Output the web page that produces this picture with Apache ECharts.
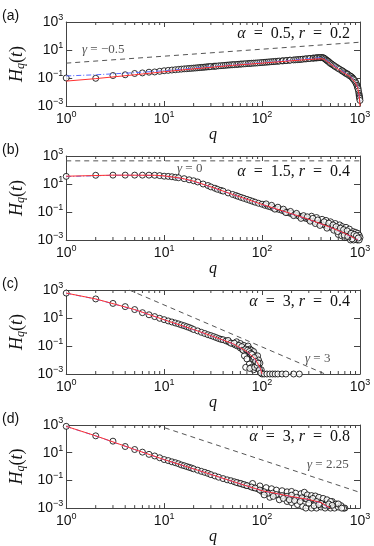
<!DOCTYPE html>
<html>
<head>
<meta charset="utf-8">
<script src="https://cdn.jsdelivr.net/npm/echarts@6.0.0/dist/echarts.min.js"></script>
<style>
html, body { margin: 0; padding: 0; background: #fff; }
#chart { width: 374px; height: 546px; }
</style>
</head>
<body>
<div id="chart"></div>
<script>
'use strict';

// panel (a) alpha = 0.5, r = 0.2
var ptsA = [[1,0.1],[2,0.095],[3,0.15],[4,0.17],[5,0.21],[6,0.23],[7,0.26],[8,0.27],[9,0.3],[10,0.33],
    [11,0.35],[12,0.37],[13,0.39],[14,0.41],[15,0.43],[16,0.45],[17,0.46],[18,0.48],[19,0.49],[20,0.51],
    [21,0.52],[22,0.54],[23,0.555],[24,0.57],[25,0.585],[26,0.6],[27,0.615],[28,0.63],[29,0.645],[30,0.66],
    [32,0.68],[33,0.7],[34,0.7],[36,0.74],[38,0.755],[40,0.78],[42,0.8],[44,0.83],[46,0.85],[48,0.87],
    [50,0.89],[52,0.9],[55,0.93],[57,0.95],[60,0.98],[62,1.0],[65,1.02],[68,1.05],[72,1.08],[75,1.1],
    [78,1.12],[82,1.15],[86,1.17],[90,1.2],[95,1.24],[100,1.28],[105,1.31],[110,1.35],[115,1.38],[120,1.42],
    [126,1.46],[132,1.5],[138,1.54],[145,1.58],[150,1.62],[160,1.67],[164,1.69],[175,1.75],[178,1.78],
    [190,1.85],[194,1.88],[210,1.95],[220,2.0],[230,2.05],[240,2.1],[250,2.15],[261,2.22],[275,2.3],
    [284,2.36],[300,2.45],[309,2.5],[330,2.6],[336,2.65],[350,2.7],[360,2.75],[365,2.78],[380,2.82],
    [390,2.85],[395,2.87],[410,2.9],[420,2.8],[430,2.6],[440,2.3],[450,2.0],[460,1.8],[470,1.6],[480,1.45],
    [490,1.25],[500,1.1],[515,0.98],[530,0.85],[545,0.74],[560,0.65],[580,0.56],[600,0.48],[620,0.42],
    [650,0.34],[660,0.32],[680,0.28],[700,0.24],[720,0.21],[740,0.2],[750,0.18],[780,0.15],[800,0.135],
    [820,0.12],[840,0.1],[850,0.09],[860,0.08],[880,0.065],[900,0.05],[915,0.04],[930,0.03],[945,0.024],
    [950,0.02],[955,0.017],[965,0.012],[975,0.008],[980,0.006],[985,0.005],[990,0.004],[992,0.0035],[1000,0.0025]];
var redA = [[1,0.06],[2,0.09],[5,0.17],[10,0.28],[20,0.45],[50,0.8],[100,1.15],[200,1.7],[300,2.1],
    [400,2.35],[430,2.2],[500,1.0],[600,0.42],[700,0.21],[800,0.12],[900,0.045],[950,0.018],[980,0.006],[1000,0.001]];
var blueA = [[1,0.14],[2,0.17],[5,0.24],[10,0.33],[20,0.5],[50,0.85],[100,1.25],[200,1.9],[300,2.4],
    [400,2.8],[430,2.6],[500,1.1],[600,0.48],[700,0.24],[800,0.135],[900,0.05],[950,0.02],[1000,0.002]];
var gamA = [[1,1.15],[1000,36]];

// panel (b) alpha = 1.5, r = 0.4
var ptsB = [[1,35],[2,42],[3,43],[4,43],[5,43],[6,43],[7,43],[8,42],[9,40],[10,36],[11,35],[12,33],
    [13,30],[14,28],[16,24],[18,20],[20,17],[22,14],[25,10],[28,7.8],[30,6.2],[33,5.0],[35,4.2],[38,3.5],
    [40,3.1],[45,2.3],[50,1.8],[54,1.5],[57,1.3],[61,1.1],[65,0.95],[70,0.8],[75,0.68],[80,0.58],[85,0.5],
    [92,0.42],[100,0.36],[107,0.3],[115,0.26],[122,0.23],[130,0.2],[140,0.17],[150,0.15],[160,0.13],
    [170,0.11],[180,0.097],[190,0.085],[200,0.077],[215,0.066],[230,0.057],[240,0.05],[255,0.044],
    [270,0.038],[285,0.034],[300,0.03],[320,0.026],[340,0.022],[360,0.019],[380,0.016],[400,0.0145],
    [420,0.013],[445,0.011],[470,0.0095],[495,0.0085],[520,0.0075],[550,0.0065],[580,0.0055],[610,0.0048],
    [640,0.0042],[670,0.0036],[700,0.003],[730,0.0026],[760,0.0022],[790,0.0019],[820,0.0017],[850,0.0014],
    [880,0.0012],[910,0.0011],[940,0.001],
    [320,0.05],[360,0.04],[410,0.03],[450,0.025],[500,0.02],[560,0.015],[620,0.012],[660,0.009],
    [720,0.008],[780,0.006],[850,0.004],[900,0.0035],[950,0.003],[980,0.0022],[1000,0.0015],
    [600,0.0025],[650,0.002],[700,0.0015],[800,0.001],[860,0.001],[980,0.001],
    [110,0.38],[125,0.3],[135,0.16],[145,0.22],[165,0.16],[175,0.09],[195,0.11],[210,0.055],[225,0.08],
    [250,0.035],[265,0.055],[290,0.045],[310,0.022],[330,0.035],[350,0.015],[370,0.027],[390,0.011],
    [430,0.02],[460,0.007],[480,0.016],[530,0.012],[540,0.005],[570,0.009],[590,0.004],[630,0.007],
    [680,0.0055],[690,0.0022],[740,0.0045],[750,0.0018],[810,0.003],[830,0.0012],[870,0.0025],[920,0.002],[960,0.0014]];
var redB = [[1,36],[3,43],[8,42],[10,38],[15,26],[20,16],[30,6.3],[50,1.8],[100,0.35],[200,0.075],
    [300,0.03],[500,0.008],[700,0.003],[850,0.0015],[950,0.001]];
var blueB = [[1,34],[3,42],[8,41],[10,37],[15,25],[20,15.5],[30,6.1],[50,1.75],[100,0.34],[200,0.073],
    [300,0.029],[500,0.0078],[700,0.0029],[850,0.0014],[960,0.001]];
var gamB = [[1,450],[1000,450]];

// panel (c) alpha = 3, r = 0.4
var ptsC = [[1,600],[2,230],[3,110],[4,65],[5,40],[6,24],[7,17],[8,12.6],[9,9.5],[10,7.6],[11,6.2],
    [12,5.2],[13,4.4],[14,3.8],[15,3.2],[16,2.8],[17,2.4],[18,2.1],[19,1.8],[20,1.5],[22,1.2],[24,0.95],
    [26,0.78],[28,0.64],[30,0.55],[32,0.47],[34,0.4],[36,0.34],[38,0.3],[40,0.28],[43,0.23],[46,0.19],
    [50,0.15],[53,0.12],[56,0.1],[60,0.072],[63,0.058],[66,0.046],[70,0.04],[73,0.03],[76,0.022],
    [80,0.018],[84,0.01],[88,0.006],[92,0.003],[96,0.0015],[100,0.001],
    [55,0.2],[60,0.15],[65,0.11],[70,0.08],[72,0.1],[75,0.06],[78,0.05],[80,0.035],[82,0.04],[85,0.02],
    [87,0.015],[90,0.02],[92,0.01],[95,0.006],[66,0.02],[70,0.012],[74,0.005],[78,0.003],[82,0.002],
    [86,0.004],[90,0.0025],[98,0.002],[68,0.003],[75,0.0025],[84,0.003],
    [45,0.25],[48,0.16],[52,0.16],[58,0.11],[62,0.09],[64,0.05],[68,0.06],[71,0.05],[74,0.04],[77,0.03],
    [79,0.025],[81,0.012],[83,0.015],[86,0.008],[89,0.004],[91,0.006],[94,0.002],[97,0.0012],
    [105,0.001],[112,0.001],[120,0.001],[128,0.001],[136,0.001],[145,0.001],[160,0.001],[175,0.001],
    [210,0.001],[240,0.001]];
var redC = [[1,600],[2,230],[5,40],[10,7.5],[20,1.5],[30,0.55],[50,0.15],[70,0.04],[85,0.012],[95,0.003],[100,0.001]];
var blueC = [[1,590],[2,225],[5,39],[10,7.4],[20,1.45],[30,0.54],[50,0.145],[70,0.039],[85,0.011],[95,0.0028],[99,0.001]];
var gamC = [[4.4,1000],[440,0.001]];

// panel (d) alpha = 3, r = 0.8
var ptsD = [[1,800],[2,165],[3,68],[4,28],[5,17],[6,11],[7,7.6],[8,5.8],[9,4.3],[10,3.2],[11,2.7],
    [12,2.2],[13,1.9],[14,1.6],[15,1.3],[16,1.15],[17,1.0],[18,0.88],[19,0.78],[20,0.68],[22,0.55],
    [24,0.45],[26,0.38],[28,0.32],[30,0.26],[33,0.21],[36,0.17],[40,0.135],[44,0.11],[48,0.095],
    [52,0.08],[57,0.065],[62,0.055],[68,0.045],[75,0.038],[82,0.03],[90,0.025],[100,0.016],[110,0.013],
    [120,0.011],[135,0.01],[150,0.009],[170,0.0075],[190,0.007],[210,0.0068],[240,0.0058],[270,0.005],
    [300,0.004],[340,0.0033],[380,0.0025],[420,0.0018],[460,0.0013],[500,0.001],
    [80,0.06],[95,0.04],[110,0.03],[125,0.025],[140,0.02],[160,0.018],[180,0.015],[200,0.016],
    [220,0.012],[250,0.011],[270,0.014],[290,0.009],[320,0.008],[350,0.0075],[380,0.006],[420,0.005],
    [460,0.004],[520,0.003],[570,0.002],[640,0.0015],[700,0.001],
    [120,0.006],[150,0.004],[180,0.003],[200,0.0025],[230,0.0018],[260,0.0013],[280,0.001],[320,0.001],
    [360,0.001],[400,0.0012],[440,0.001],[480,0.0015],[550,0.001],[600,0.0012],[680,0.001],[500,0.003],
    [55,0.07],[60,0.06],[65,0.05],[70,0.042],[78,0.033],[85,0.028],[95,0.02],[105,0.015],[115,0.012],
    [128,0.012],[140,0.0095],[160,0.008],[180,0.0072],[200,0.0085],[225,0.006],[255,0.0055],[285,0.0045],
    [310,0.0038],[330,0.005],[360,0.003],[400,0.0022],[440,0.0016],[480,0.002],[520,0.0016],[600,0.002],
    [650,0.001],[105,0.009],[130,0.007],[165,0.005],[190,0.004],[215,0.0035],[245,0.003],[300,0.0022],
    [340,0.0015],[380,0.0018]];
var redD = [[1,800],[2,165],[5,17],[10,3.2],[20,0.68],[50,0.085],[100,0.018],[200,0.0068],[300,0.0042],
    [400,0.0025],[450,0.0015],[500,0.001]];
var blueD = [[1,790],[2,162],[5,16.8],[10,3.15],[20,0.67],[50,0.084],[100,0.0178],[200,0.0067],[300,0.0041],
    [400,0.0024],[450,0.0014],[490,0.001]];
var gamD = [[8.3,1000],[1000,0.0135]];

var panelLetters = ['(a)', '(b)', '(c)', '(d)'];
var panelTexts = ['{i|α}\u2002=\u20020.5, {i|r}\u2002=\u20020.2', '{i|α}\u2002=\u20021.5, {i|r}\u2002=\u20020.4',
    '{i|α}\u2002=\u20023, {i|r}\u2002=\u20020.4', '{i|α}\u2002=\u20023, {i|r}\u2002=\u20020.8'];
var gammaTexts = ['{i|γ} = −0.5', '{i|γ} = 0', '{i|γ} = 3', '{i|γ} = 2.25'];

var panels = [
    {pts: ptsA, red: redA, blue: blueA, gam: gamA},
    {pts: ptsB, red: redB, blue: blueB, gam: gamB},
    {pts: ptsC, red: redC, blue: blueC, gam: gamC},
    {pts: ptsD, red: redD, blue: blueD, gam: gamD}
];

var tops = [22, 156, 290, 425];
var gridH = 84;
var gridL = 53;
var gridW = 307;
var axisColor = '#444';

// minor tick positions on the log q axis
var minorQ = [];
for (var k = 0; k < 3; k++) {
    for (var m = 2; m <= 9; m++) {
        minorQ.push([m * Math.pow(10, k), 1]);
    }
}

function powLabel(v) {
    var e = Math.round(Math.log10(v));
    return '{b|10}{s|' + (e < 0 ? '−' + (-e) : e) + '}';
}

var labelRich = {
    b: {fontSize: 14, fontFamily: 'Liberation Sans', color: '#111'},
    s: {fontSize: 9, fontFamily: 'Liberation Sans', color: '#111', verticalAlign: 'bottom', padding: [0, 0, 9, 0]}
};

function minorTickItem(params, api) {
    var cs = params.coordSys;
    var x = api.coord([api.value(0), 1])[0];
    return {
        type: 'group',
        children: [
            {type: 'line', shape: {x1: x, y1: cs.y + cs.height, x2: x, y2: cs.y + cs.height - 3}, style: {stroke: axisColor, lineWidth: 1}},
            {type: 'line', shape: {x1: x, y1: cs.y, x2: x, y2: cs.y + 3}, style: {stroke: axisColor, lineWidth: 1}}
        ]
    };
}

var grid = [], xAxis = [], yAxis = [], series = [], graphic = [];

for (var i = 0; i < 4; i++) {
    var p = panels[i];
    grid.push({left: gridL, top: tops[i], width: gridW, height: gridH});

    var baseX = {
        type: 'log', logBase: 10, min: 1, max: 1000, interval: 1, gridIndex: i,
        axisLine: {show: true, lineStyle: {color: axisColor, width: 1}},
        axisTick: {show: true, inside: true, length: 5, lineStyle: {color: axisColor}},
        splitLine: {show: false}
    };
    xAxis.push(Object.assign({}, baseX, {
        position: 'bottom',
        name: 'q', nameLocation: 'middle', nameGap: 15,
        nameTextStyle: {fontFamily: 'Liberation Serif', fontStyle: 'italic', fontSize: 16, color: '#111'},
        axisLabel: {show: true, margin: 4, showMinLabel: true, showMaxLabel: true, formatter: powLabel, rich: labelRich}
    }));
    xAxis.push(Object.assign({}, baseX, {position: 'top', axisLabel: {show: false}}));

    var baseY = {
        type: 'log', logBase: 10, min: 0.001, max: 1000, interval: 2, gridIndex: i,
        axisLine: {show: true, lineStyle: {color: axisColor, width: 1}},
        axisTick: {show: true, inside: true, length: 6, lineStyle: {color: axisColor}},
        splitLine: {show: false}
    };
    yAxis.push(Object.assign({}, baseY, {
        position: 'left',
        name: '{i|H}{sub|q}{n|(}{i|t}{n|)}', nameLocation: 'middle', nameGap: 33, nameRotate: 90,
        nameTextStyle: {
            rich: {
                i: {fontFamily: 'Liberation Serif', fontStyle: 'italic', fontSize: 18, color: '#111'},
                n: {fontFamily: 'Liberation Serif', fontSize: 18, color: '#111'},
                sub: {fontFamily: 'Liberation Serif', fontStyle: 'italic', fontSize: 12, color: '#111', verticalAlign: 'top', padding: [7, 0, 0, 0]}
            }
        },
        axisLabel: {show: true, margin: 3, showMinLabel: true, showMaxLabel: true, formatter: powLabel, rich: labelRich}
    }));
    yAxis.push(Object.assign({}, baseY, {position: 'right', axisLabel: {show: false}}));

    var xi = i * 2, yi = i * 2;
    series.push({
        type: 'line', xAxisIndex: xi, yAxisIndex: yi, data: p.gam, showSymbol: false, silent: true,
        lineStyle: {color: '#555', width: 1, type: [5, 4]}, z: 2
    });
    series.push({
        type: 'scatter', xAxisIndex: xi, yAxisIndex: yi, data: p.pts, symbol: 'circle', symbolSize: 6,
        itemStyle: {color: '#fff', borderColor: '#000', borderWidth: 1}, z: 3
    });
    series.push({
        type: 'line', xAxisIndex: xi, yAxisIndex: yi, data: p.blue, showSymbol: false, silent: true,
        lineStyle: {color: '#5a6cff', width: 1, type: [5, 2, 1, 2]}, z: 4
    });
    series.push({
        type: 'line', xAxisIndex: xi, yAxisIndex: yi, data: p.red, showSymbol: false, silent: true,
        lineStyle: {color: '#ff3030', width: 1}, z: 5
    });
    series.push({
        type: 'custom', xAxisIndex: xi, yAxisIndex: yi, data: minorQ, renderItem: minorTickItem,
        silent: true, clip: false, z: 6
    });

    graphic.push({
        type: 'text', left: 2, top: tops[i] - 13,
        style: {text: panelLetters[i], font: '14px "Liberation Sans"', fill: '#111'}
    });
    graphic.push({
        type: 'text', right: 374 - 350, top: tops[i] + (i === 1 ? 8 : 4),
        style: {text: panelTexts[i], font: '16px "Liberation Serif"', fill: '#111',
            rich: {i: {fontStyle: 'italic', fontSize: 16, fontFamily: 'Liberation Serif'}}}
    });
}

// gamma labels
var gammaPos = [[82, 43], [177, 162], [305, 352], [307, 458]];
for (var g = 0; g < 4; g++) {
    graphic.push({
        type: 'text', left: gammaPos[g][0], top: gammaPos[g][1],
        style: {text: gammaTexts[g], font: '13px "Liberation Serif"', fill: '#555',
            rich: {i: {fontStyle: 'italic', fontSize: 13, fontFamily: 'Liberation Serif', fill: '#555'}}}
    });
}

var chart = echarts.init(document.getElementById('chart'));
chart.setOption({
    animation: false,
    backgroundColor: '#fff',
    grid: grid,
    xAxis: xAxis,
    yAxis: yAxis,
    series: series,
    graphic: graphic
});
</script>
</body>
</html>
